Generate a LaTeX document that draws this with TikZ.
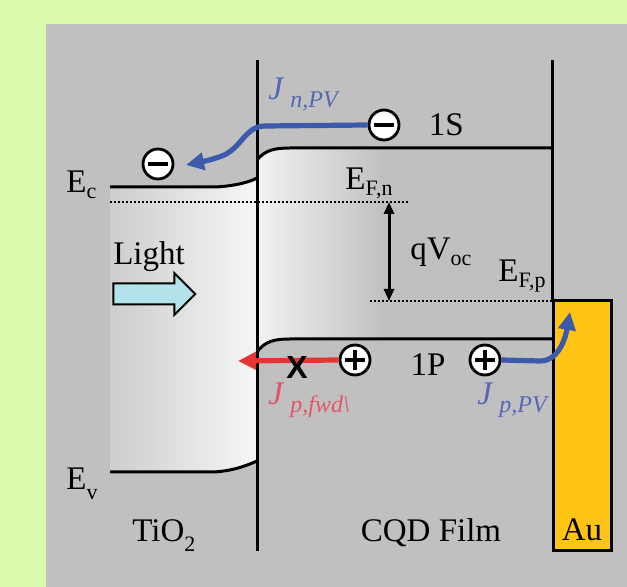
\documentclass[tikz,border=0pt]{standalone}
\usepackage{fontspec}
\setmainfont{Liberation Serif}
\setsansfont{Liberation Sans}
\usepackage{tikz}
\usetikzlibrary{arrows.meta, positioning, shapes.arrows, calc}

\definecolor{bgGreen}{RGB}{218,250,172}
\definecolor{panelGray}{RGB}{192,192,192}
\definecolor{lightCyan}{RGB}{178,226,234}
\definecolor{auGold}{RGB}{255,196,20}
\definecolor{pvBlue}{RGB}{60,90,172}
\definecolor{pvText}{RGB}{84,104,184}
\definecolor{fwdRed}{RGB}{228,52,52}
\definecolor{fwdText}{RGB}{228,84,104}

\newcommand{\sublbl}[1]{\raisebox{-3pt}{\fontsize{11}{11}\selectfont #1}}
\newcommand{\jlbl}[1]{\textit{J}\hspace{3pt}\raisebox{-4pt}{\fontsize{12}{12}\selectfont\itshape #1}}

\begin{document}
\begin{tikzpicture}[x=0.5pt, y=-0.5pt,
  carrier/.style={circle, draw, line width=1.4pt, fill=white, minimum size=15pt, inner sep=0pt},
  electron/.style={carrier, path picture={
    \draw[line width=1.8pt] ([xshift=-5pt]path picture bounding box.center)
      -- ([xshift=5pt]path picture bounding box.center);}},
  hole/.style={carrier, path picture={
    \draw[line width=1.8pt] ([xshift=-5pt]path picture bounding box.center)
      -- ([xshift=5pt]path picture bounding box.center);
    \draw[line width=1.8pt] ([yshift=-5pt]path picture bounding box.center)
      -- ([yshift=5pt]path picture bounding box.center);}},
  band/.style={line width=1.5pt},
  fermi/.style={line width=1pt, dash pattern=on 1pt off 1pt},
  lbl/.style={inner sep=0pt, font=\fontsize{16.5}{19}\selectfont},
  current/.style={line width=2.6pt, -{Triangle[length=9pt,width=8.5pt]}}]

  % frame
  \fill[bgGreen] (0,0) rectangle (627,587);
  \fill[panelGray] (46,24) rectangle (627,587);

  % TiO2 shading
  \begin{scope}
    \clip (110,187) -- (215,187) .. controls (235,186) and (250,182) .. (257,178)
      -- (257,461) .. controls (250,464) and (235,471) .. (213,472) -- (110,472) -- cycle;
    \shade[left color=panelGray, right color=white] (60,170) rectangle (290,480);
  \end{scope}

  % CQD shading
  \begin{scope}
    \clip (257,160) .. controls (265,150) and (275,148) .. (290,148) -- (380,148)
      -- (380,339) -- (290,339) .. controls (275,339) and (265,341) .. (257,352) -- cycle;
    \shade[left color=white, right color=panelGray] (225,140) rectangle (385,360);
  \end{scope}

  % bands
  \draw[band] (110,187) -- (215,187) .. controls (235,186) and (250,182) .. (257,178);
  \draw[band] (110,472) -- (213,472) .. controls (235,471) and (250,464) .. (257,461);
  \draw[band] (257,160) .. controls (265,150) and (275,148) .. (290,148) -- (552,148);
  \draw[band] (257,352) .. controls (265,341) and (275,339) .. (290,339) -- (553,339);
  \draw[band] (257,60) -- (257,551);
  \draw[band] (552,60) -- (552,301);
  \draw[fermi] (110,202) -- (410,202);
  \draw[fermi] (370,301) -- (553,301);

  % gold contact
  \fill[auGold, draw=black, line width=1.5pt] (553,301) rectangle (611,551);
  \node[lbl] (au) at (582,530) {Au};

  % Fermi levels
  \coordinate (efn) at (389,202);
  \coordinate (efp) at (389,301);
  \draw[line width=1.5pt, {Triangle[length=6pt,width=5pt]}-{Triangle[length=6pt,width=5pt]}]
    (efn) -- (efp);
  \node[lbl, anchor=base west] (efnlbl) at (345,190) {E\sublbl{F,n}};
  \node[lbl, anchor=base west] (voc) at (410,260) {qV\sublbl{oc}};
  \node[lbl, anchor=base west] (efplbl) at (498,282) {E\sublbl{F,p}};

  % band labels
  \node[lbl, anchor=base west] (ec) at (66,193) {E\sublbl{c}};
  \node[lbl, anchor=base west] (ev) at (66,490) {E\raisebox{-5pt}{\fontsize{11}{11}\selectfont v}};
  \node[lbl, anchor=base west] (tio) at (132,542) {TiO\raisebox{-5pt}{\fontsize{11}{11}\selectfont 2}};
  \node[lbl, anchor=base] (cqd) at (431,542) {CQD Film};

  % light
  \node[single arrow, draw, line width=1pt, fill=lightCyan, minimum height=41pt,
    single arrow head extend=5.25pt, inner ysep=4.75pt, inner xsep=0pt] (lightarrow) at (149,294) {};
  \node[lbl, above=5pt of lightarrow] (light) {Light};

  % carriers
  \node[electron] (e1) at (158,164) {};
  \node[electron] (e2) at (384,125) {};
  \node[hole] (h1) at (355,360) {};
  \node[hole] (h2) at (485,360) {};
  \node[lbl, right=14pt of e2] (s1) {1S};
  \node[lbl] (p1) at (428,365) {1P};

  % electron current
  \coordinate (jntip) at (186,165);
  \draw[current, pvBlue] (e2.west) -- (265,126) .. controls (245,126) and (242,148) .. (222,156)
    .. controls (210,160) .. (jntip);
  \node[lbl, text=pvText, anchor=base west] (jn) at (268,100) {\jlbl{n,PV}};

  % hole currents
  \coordinate (fwdtip) at (238,361);
  \draw[current, fwdRed] (h1.west) -- (fwdtip);
  \node[font=\fontsize{16}{16}\selectfont\sffamily\bfseries, inner sep=0pt] (block) at (297,367) {X};
  \node[lbl, text=fwdText, anchor=base west] (jfwd) at (268,405) {\jlbl{p,fwd\textbackslash}};

  \coordinate (pvtip) at (570,312);
  \draw[current, pvBlue] (h2.east) -- (540,361) .. controls (560,361) and (566,335) .. (pvtip);
  \node[lbl, text=pvText, anchor=base west] (jpv) at (477,405) {\jlbl{p,PV}};
\end{tikzpicture}
\end{document}
